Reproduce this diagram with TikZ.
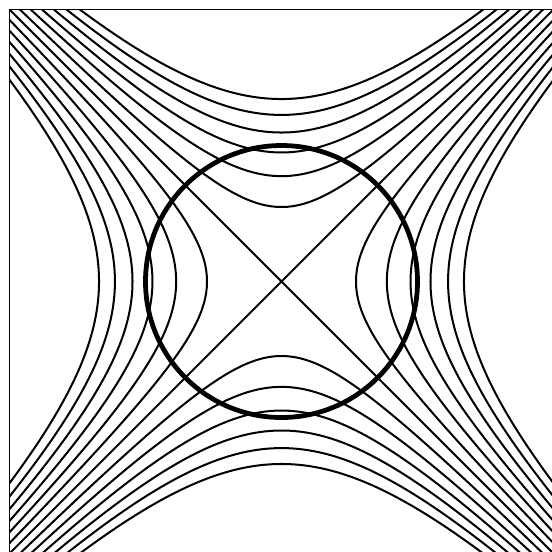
\documentclass[tikz,border=0pt]{standalone}
\begin{document}
\begin{tikzpicture}[x=1cm,y=1cm,
  level/.style={line width=0.42pt},
  ring/.style={line width=1.0pt},
  frame/.style={line width=0.25pt}]
\useasboundingbox (-2.07,-1.989) rectangle (1.982,2.07);
\begin{scope}
\clip (-2,-2) rectangle (2,2);
\foreach \k in {1,...,6}{
  \pgfmathsetmacro{\rr}{sqrt(0.3*\k)}
  \draw[level] plot[domain=-2.6:2.6,samples=90,smooth,variable=\t] ({\rr*cosh(\t)},{\rr*sinh(\t)});
  \draw[level] plot[domain=-2.6:2.6,samples=90,smooth,variable=\t] ({-\rr*cosh(\t)},{\rr*sinh(\t)});
  \draw[level] plot[domain=-2.6:2.6,samples=90,smooth,variable=\t] ({\rr*sinh(\t)},{\rr*cosh(\t)});
  \draw[level] plot[domain=-2.6:2.6,samples=90,smooth,variable=\t] ({\rr*sinh(\t)},{-\rr*cosh(\t)});
}
\draw[level] (-2,-2) -- (2,2) (-2,2) -- (2,-2);
\end{scope}
\draw[ring] (0,0) circle (1);
\draw[frame] (-2,-2) -- (-2,2) -- (2,2);
\end{tikzpicture}
\end{document}
